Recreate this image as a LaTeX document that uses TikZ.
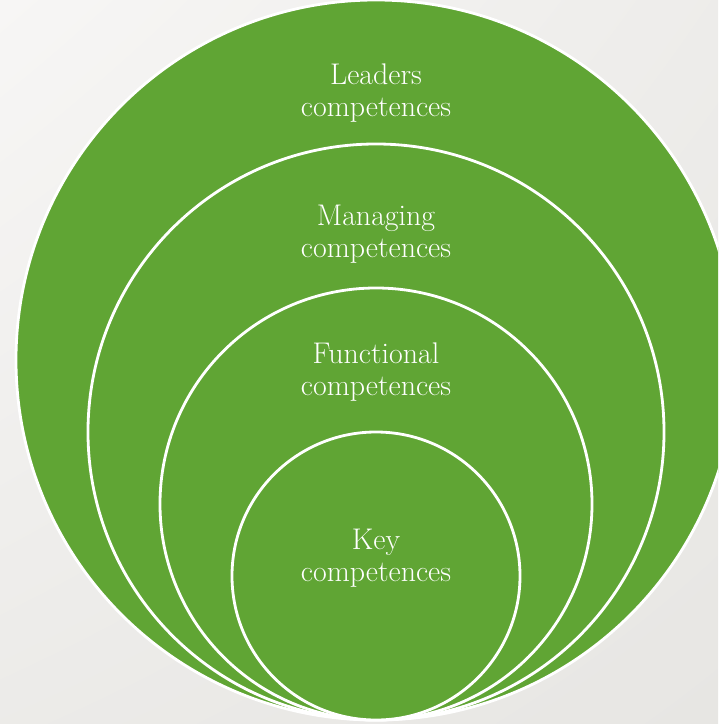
\documentclass[tikz,border=0pt]{standalone}
\usetikzlibrary{positioning, shadings}
\definecolor{leafgreen}{RGB}{96,165,52}
\definecolor{paperlight}{RGB}{247,246,245}
\definecolor{paperdark}{RGB}{231,230,227}
\tikzset{ring/.style={circle, draw=white, line width=2.4pt, fill=leafgreen, inner sep=0pt},
         ringlabel/.style={text=white, align=center, font=\fontsize{25.5}{27.5}\selectfont},}

\begin{document}
\begin{tikzpicture}[x=0.03cm, y=-0.03cm]
\useasboundingbox (0,0) rectangle (718,724);
\clip (0,0) rectangle (718,724);
\shade [upper left=paperlight, upper right=paperdark!60!paperlight, lower left=paperdark!70!paperlight, lower right=paperdark] (0,0) rectangle (718,724);
% nested rings, all touching at the bottom
\node [ring, minimum size=21.6cm] (leaders) at (376,360) {};
\node [ring, minimum size=17.28cm] (managing) at (376,432) {};
\node [ring, minimum size=12.96cm] (functional) at (376,504) {};
\node [ring, minimum size=8.64cm] (key) at (376,576) {};
% labels
\node [ringlabel] (leaderstext) at (376,93) {Leaders\\competences};
\node [ringlabel] (managingtext) at (376,234) {Managing\\competences};
\node [ringlabel] (functionaltext) at (376,372) {Functional\\competences};
\node [ringlabel] (keytext) at (376,558) {Key\\competences};
\end{tikzpicture}
\end{document}
